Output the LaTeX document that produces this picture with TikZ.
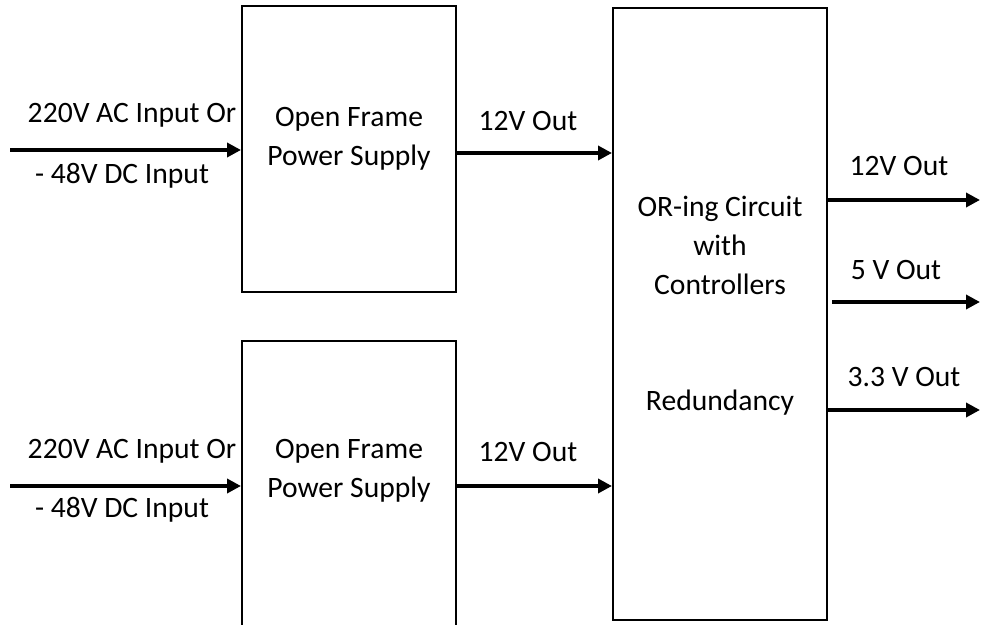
\documentclass[tikz,border=0pt]{standalone}
\usepackage{fontspec}
\setmainfont{Carlito}
\usetikzlibrary{arrows.meta}

\begin{document}
\begin{tikzpicture}[
    x=0.5pt, y=-0.5pt,
    block/.style={rectangle, draw, line width=1pt, inner sep=0pt, minimum width=107pt, minimum height=#1},
    label/.style={font=\fontsize{14.8}{19.5}\selectfont, align=center, inner sep=0pt},
    wire/.style={line width=1.9pt, -{Triangle[length=7pt, width=7pt]}}
]
    \useasboundingbox (0,0) rectangle (981,625);

    % Blocs
    \node[block=143pt] (psu1) at (349,149) {};
    \node[block=145pt] (psu2) at (349,486) {};
    \node[block=306pt] (oring) at (720,314) {};

    \node[label] (psu1txt) at (349,139) {Open Frame\\Power Supply};
    \node[label] (psu2txt) at (349,471) {Open Frame\\Power Supply};
    \node[label] (oringtxt) at (720,245) {OR-ing Circuit\\with\\Controllers};
    \node[label] (redtxt) at (720,403) {Redundancy};

    % Entrades
    \coordinate (in1) at (10,150);
    \coordinate (in2) at (10,486);
    \draw[wire] (in1) -- (in1 -| psu1.west);
    \draw[wire] (in2) -- (in2 -| psu2.west);
    \node[label] (in1a) at (132,115) {220V AC Input Or};
    \node[label] (in1b) at (122,176) {- 48V DC Input};
    \node[label] (in2a) at (132,451) {220V AC Input Or};
    \node[label] (in2b) at (122,510) {- 48V DC Input};

    % Sortides 12V
    \draw[wire] ([yshift=-2pt]psu1.east) -- ([yshift=-2pt]psu1.east -| oring.west);
    \draw[wire] (psu2.east) -- (psu2.east -| oring.west);
    \node[label] (out1) at (528,121) {12V Out};
    \node[label] (out2) at (528,452) {12V Out};

    % Sortides finals
    \coordinate (o12) at (980,200);
    \coordinate (o5) at (980,302);
    \coordinate (o33) at (980,410);
    \draw[wire] (o12 -| oring.east) -- (o12);
    \draw[wire] ([xshift=2pt]o5 -| oring.east) -- (o5);
    \draw[wire] (o33 -| oring.east) -- (o33);
    \node[label] (o12txt) at (899,166) {12V Out};
    \node[label] (o5txt) at (896,270) {5 V Out};
    \node[label] (o33txt) at (904,377) {3.3 V Out};
\end{tikzpicture}
\end{document}
